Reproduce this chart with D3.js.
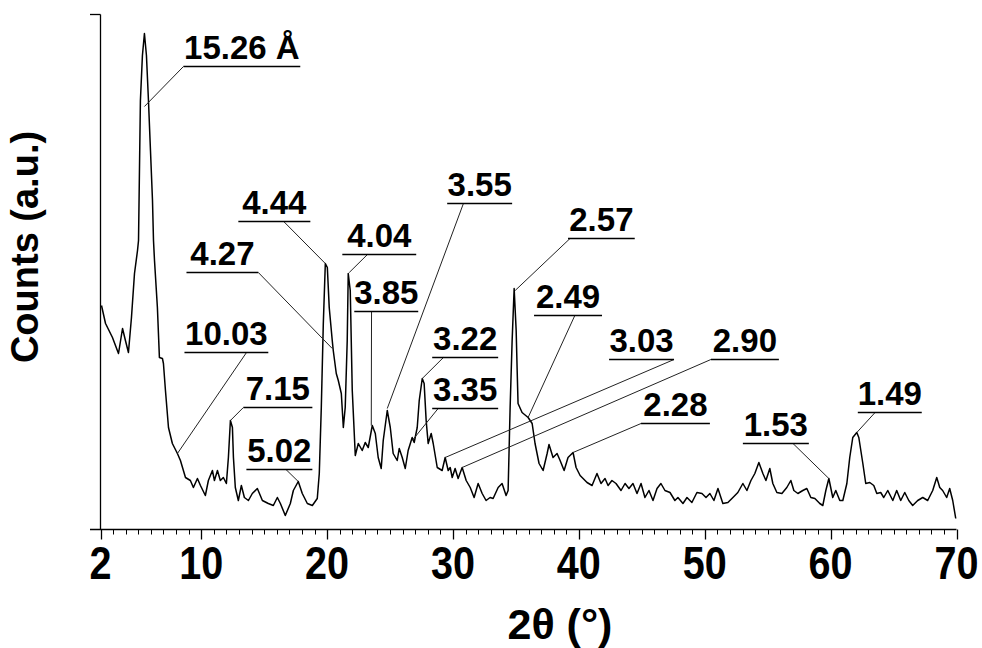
<!DOCTYPE html>
<html>
<head>
<meta charset="utf-8">
<script src="https://cdn.jsdelivr.net/npm/d3@7/dist/d3.min.js"></script>
<style>
  html, body { margin: 0; padding: 0; background: #ffffff; }
  svg { display: block; }
  text { font-family: "Liberation Sans", Arial, Helvetica, sans-serif; font-weight: bold; fill: #000; }
</style>
</head>
<body>
<svg id="chart" width="982" height="648"></svg>
<script>
// ---- Data: XRD pattern (2θ in degrees, counts in arbitrary units) ----
const twoTheta = [
  2.08,2.40,2.95,3.43,3.75,3.98,4.22,4.46,4.70,4.94,5.02,5.17,5.33,5.49,5.65,5.81,5.97,6.13,6.21,6.29,
  6.52,6.68,6.92,7.00,7.16,7.40,7.71,8.11,8.35,8.75,9.14,9.38,9.70,9.94,10.33,10.57,10.89,11.05,11.29,11.52,
  11.76,12.00,12.16,12.32,12.48,12.56,12.71,12.95,13.19,13.43,13.75,14.06,14.46,14.86,15.33,15.73,16.05,16.29,16.68,17.08,
  17.32,17.71,18.03,18.43,18.83,19.22,19.38,19.54,19.70,19.86,20.02,20.17,20.41,20.49,20.73,20.89,21.13,21.29,21.44,21.60,
  21.68,21.84,22.00,22.24,22.48,22.79,23.03,23.27,23.59,23.83,24.06,24.30,24.46,24.78,25.02,25.25,25.57,25.73,25.97,26.21,
  26.44,26.76,26.92,27.16,27.32,27.56,27.71,27.87,28.03,28.27,28.43,28.75,29.14,29.38,29.62,29.78,29.94,30.17,30.41,30.73,
  31.05,31.37,31.68,32.00,32.32,32.63,32.95,33.19,33.59,33.90,34.22,34.38,34.54,34.70,34.86,35.02,35.10,35.17,35.49,35.97,
  36.29,36.52,36.84,37.16,37.48,37.63,37.95,38.27,38.51,38.83,39.14,39.54,39.78,40.10,40.65,41.05,41.44,41.76,42.08,42.32,
  42.63,42.95,43.35,43.67,43.98,44.30,44.62,44.94,45.25,45.57,45.89,46.21,46.52,46.84,47.24,47.63,47.87,48.27,48.59,48.98,
  49.38,49.78,50.10,50.41,50.73,51.05,51.44,51.84,52.24,52.63,53.03,53.35,53.67,53.98,54.30,54.62,54.86,55.17,55.41,55.73,
  56.13,56.52,56.84,57.08,57.40,57.79,58.11,58.43,58.75,59.14,59.38,59.62,59.86,60.17,60.41,60.73,60.97,61.29,61.52,61.76,
  62.08,62.24,62.56,62.79,63.11,63.43,63.67,63.98,64.22,64.54,64.94,65.25,65.57,65.89,66.21,66.52,66.92,67.32,67.71,68.11,
  68.43,68.67,68.90,69.22,69.46,69.70,69.94
];
const counts = [
  448,412,384,352,402,378,354,424,512,558,578,858,948,992,948,858,758,658,578,538,
  444,344,342,332,278,204,172,152,138,104,98,84,102,88,68,98,118,98,118,98,
  104,92,144,218,204,144,84,58,88,64,58,72,82,58,52,48,64,52,28,52,
  78,96,72,52,48,62,112,244,412,532,524,444,378,358,312,298,272,204,244,378,
  512,478,278,148,172,158,174,164,208,192,144,122,178,238,204,152,138,162,144,122,
  158,184,174,204,258,302,292,218,172,192,172,124,118,144,118,124,104,122,102,124,
  98,84,64,92,72,58,64,62,84,92,68,78,244,378,482,398,318,252,234,224,
  212,172,132,118,152,170,144,152,138,118,144,154,124,108,94,88,112,92,102,88,
  98,92,78,92,82,92,72,92,64,78,58,82,92,78,74,58,64,52,64,54,
  74,72,64,72,58,82,52,54,64,74,92,78,98,112,134,112,98,122,92,74,
  72,84,98,78,72,78,82,64,62,52,48,78,102,64,78,58,58,92,144,184,
  194,184,132,92,94,88,72,74,64,78,58,78,58,74,58,48,58,64,58,78,
  104,84,78,64,82,58,22
];

// ---- Axis ticks ----
const xMajorTicks = [2, 10, 20, 30, 40, 50, 60, 70];
const xMinorTicks = d3.range(3, 70, 1);
const xDomain = [2, 70];
const yDomain = [0, 1030];

// ---- Peak annotations (d-spacings) ----
const peakLabels = ["15.26 Å","4.44","4.27","10.03","7.15","5.02","4.04","3.85","3.55","3.22","3.35","3.03","2.90","2.57","2.49","2.28","1.53","1.49"];
// point on the pattern that each leader line points to
const peakTwoTheta = [5.49,19.86,20.41,8.11,12.32,17.71,21.76,23.51,24.78,27.56,26.76,29.38,30.73,34.94,35.97,39.54,59.86,62.08];
const peakCounts   = [846,532,362,152,218,96,514,208,242,302,178,144,124,478,224,154,102,194];
// label underline span (2θ) and level (counts)
const labelFrom   = [8.59,12.95,8.83,8.67,13.35,13.59,21.21,22.16,29.54,28.35,28.35,42.40,50.49,39.14,36.44,44.94,53.03,62.16];
const labelTo     = [17.87,18.67,14.54,15.33,18.83,18.83,27.08,27.24,34.70,33.59,33.59,47.56,55.89,44.44,41.84,50.41,58.27,67.24];
const labelCounts = [926,616,514,354,244,120,550,436,652,344,242,340,340,582,428,212,172,234];
// where along the underline (0 = left end, 1 = right end) the leader starts
const leaderAttach = [0,0.63,1,0.74,0,0.6,0.34,0.27,0.25,0.17,0.09,1,0,0.03,0.6,0,0.76,0.27];

// ---- Layout ----
const svg = d3.select("#chart");
svg.append("rect").attr("width", 982).attr("height", 648).attr("fill", "#fff");

const x = d3.scaleLinear().domain(xDomain).range([100.5, 956.5]);
const y = d3.scaleLinear().domain(yDomain).range([529.5, 14.5]);

// x axis: line + ticks
const xAxisG = svg.append("g");
xAxisG.append("line")
  .attr("x1", 90).attr("x2", x(70)).attr("y1", y(0)).attr("y2", y(0))
  .attr("stroke", "#000").attr("stroke-width", 1.3);
xAxisG.selectAll("line.minor").data(xMinorTicks.filter(t => !xMajorTicks.includes(t)))
  .enter().append("line").attr("class", "minor")
  .attr("x1", d => Math.round(x(d)) + 0.5).attr("x2", d => Math.round(x(d)) + 0.5)
  .attr("y1", y(0)).attr("y2", y(0) + 5)
  .attr("stroke", "#000").attr("stroke-width", 1);
xAxisG.selectAll("line.major").data(xMajorTicks)
  .enter().append("line").attr("class", "major")
  .attr("x1", d => Math.round(x(d)) + 0.5).attr("x2", d => Math.round(x(d)) + 0.5)
  .attr("y1", y(0)).attr("y2", y(0) + 10)
  .attr("stroke", "#000").attr("stroke-width", 1.3);
xAxisG.selectAll("text.tick").data(xMajorTicks)
  .enter().append("text").attr("class", "tick")
  .attr("transform", d => `translate(${x(d)},579) scale(0.86,1)`)
  .attr("text-anchor", "middle")
  .style("font-size", "46px")
  .text(d => d);

// y axis: line with ticks at bottom and top
const yAxisG = svg.append("g");
yAxisG.append("line")
  .attr("x1", x(2)).attr("x2", x(2)).attr("y1", y(yDomain[1])).attr("y2", y(0))
  .attr("stroke", "#000").attr("stroke-width", 1.3);
yAxisG.append("line")
  .attr("x1", 90).attr("x2", x(2)).attr("y1", y(yDomain[1])).attr("y2", y(yDomain[1]))
  .attr("stroke", "#000").attr("stroke-width", 1.3);

// axis titles
svg.append("text")
  .attr("x", x(38.5)).attr("y", 639)
  .attr("text-anchor", "middle")
  .style("font-size", "43px")
  .text("2θ (°)");
svg.append("text")
  .attr("transform", "translate(37.5,247) rotate(-90)")
  .attr("text-anchor", "middle")
  .style("font-size", "38px")
  .text("Counts (a.u.)");

// pattern
const pts = twoTheta.map((t, i) => [t, counts[i]]);
svg.append("path")
  .datum(pts)
  .attr("fill", "none")
  .attr("stroke", "#000")
  .attr("stroke-width", 1.5)
  .attr("stroke-linejoin", "round")
  .attr("d", d3.line().x(d => x(d[0])).y(d => y(d[1])));

// annotations
const ann = svg.append("g");
peakLabels.forEach((lab, i) => {
  const ux0 = x(labelFrom[i]), ux1 = x(labelTo[i]), uy = y(labelCounts[i]);
  const sx = ux0 + (ux1 - ux0) * leaderAttach[i];
  ann.append("line")
    .attr("x1", sx).attr("y1", uy)
    .attr("x2", x(peakTwoTheta[i])).attr("y2", y(peakCounts[i]))
    .attr("stroke", "#222").attr("stroke-width", 1);
  ann.append("line")
    .attr("x1", ux0).attr("x2", ux1).attr("y1", uy).attr("y2", uy)
    .attr("stroke", "#000").attr("stroke-width", 1.6);
  ann.append("text")
    .attr("x", (ux0 + ux1) / 2).attr("y", uy - 8)
    .attr("text-anchor", "middle")
    .style("font-size", "33px")
    .text(lab);
});
</script>
</body>
</html>
